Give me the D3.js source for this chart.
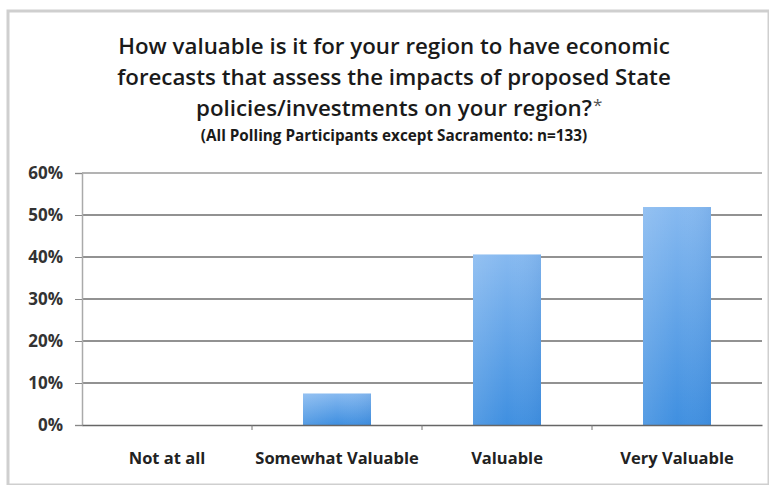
<!DOCTYPE html>
<html><head><meta charset="utf-8">
<script src="https://cdn.jsdelivr.net/npm/d3@7"></script>
<style>body{margin:0;background:#fff}svg{display:block}</style>
</head><body>
<svg id="c" width="769" height="485"></svg>
<script>
const categories = ["Not at all", "Somewhat Valuable", "Valuable", "Very Valuable"];
const values = [0, 7.5, 40.6, 51.9];
const yTicks = [0, 10, 20, 30, 40, 50, 60];
const titleLines = [
  "How valuable is it for your region to have economic",
  "forecasts that assess the impacts of proposed State",
  "policies/investments on your region?"
];
const subtitle = "(All Polling Participants except Sacramento: n=133)";

const svg = d3.select("#c");
const font = "'Open Sans', sans-serif";
const W = 769, H = 485;
const m = {left: 82, right: 7, top: 173, bottom: 60};

// frame
svg.append("rect").attr("x", 8).attr("y", 11).attr("width", W - 8).attr("height", H - 11)
  .attr("fill", "#fff").attr("stroke", "#cfcfcf").attr("stroke-width", 3);

const defs = svg.append("defs");
const g1 = defs.append("linearGradient").attr("id", "bg").attr("x1", 0).attr("x2", 0).attr("y1", 0).attr("y2", 1);
g1.append("stop").attr("offset", "0%").attr("stop-color", "#86b9f0");
g1.append("stop").attr("offset", "100%").attr("stop-color", "#3f8fe0");
const g2 = defs.append("linearGradient").attr("id", "bh").attr("x1", 0).attr("x2", 1).attr("y1", 0).attr("y2", 0);
g2.append("stop").attr("offset", "0%").attr("stop-color", "#ffffff").attr("stop-opacity", 0.12);
g2.append("stop").attr("offset", "50%").attr("stop-color", "#ffffff").attr("stop-opacity", 0);
g2.append("stop").attr("offset", "100%").attr("stop-color", "#1d5fb0").attr("stop-opacity", 0.1);

const x = d3.scaleBand().domain(categories).range([m.left, W - m.right]).paddingInner(0.6).paddingOuter(0.3);
const y = d3.scaleLinear().domain([0, 60]).range([H - m.bottom, m.top]);

// gridlines
svg.append("g").selectAll("line").data(yTicks.filter(d => d > 0)).join("line")
  .attr("x1", m.left).attr("x2", W - m.right)
  .attr("y1", d => y(d)).attr("y2", d => y(d))
  .attr("stroke", d => d === 60 ? "#9a9a9a" : "#6e6e6e").attr("stroke-width", 1.3);

// y axis
const ya = svg.append("g").attr("transform", `translate(${m.left},0)`)
  .call(d3.axisLeft(y).tickValues(yTicks).tickFormat(d => d + "%").tickSize(7).tickPadding(12));
ya.select(".domain").attr("stroke", "#aaa").attr("stroke-width", 1.5);
ya.selectAll(".tick line").attr("stroke", "#888");
ya.selectAll("text").attr("font-family", font).attr("font-weight", 700).attr("font-size", 17)
  .attr("fill", "#333").attr("dy", "0.35em").attr("x", -19);

// bars
const bars = svg.append("g").selectAll("g").data(categories.map((c, i) => ({c, v: values[i]}))).join("g");
bars.append("rect").attr("x", d => x(d.c)).attr("width", x.bandwidth())
  .attr("y", d => y(d.v)).attr("height", d => y(0) - y(d.v)).attr("fill", "url(#bg)");
bars.append("rect").attr("x", d => x(d.c)).attr("width", x.bandwidth())
  .attr("y", d => y(d.v)).attr("height", d => y(0) - y(d.v)).attr("fill", "url(#bh)");

// x axis
const xa = svg.append("g").attr("transform", `translate(0,${y(0)})`)
  .call(d3.axisBottom(x).tickSize(0).tickPadding(27));
xa.select(".domain").attr("stroke", "#666").attr("stroke-width", 1.5);
xa.selectAll("text").attr("font-family", font).attr("font-weight", 700).attr("font-size", 16.5).attr("fill", "#222");
xa.selectAll(".sep").data(categories.slice(1)).join("line").attr("class", "sep")
  .attr("x1", d => x(d) - x.step() * x.paddingInner() / 2).attr("x2", d => x(d) - x.step() * x.paddingInner() / 2)
  .attr("y1", 0).attr("y2", 5).attr("stroke", "#777");

// title
const tY = [48, 79, 110];
const cx = 394;
let fs = 22;
titleLines.forEach((t, i) => {
  const tx = svg.append("text").attr("x", cx).attr("y", tY[i]).attr("text-anchor", "middle")
    .attr("dominant-baseline", "middle").attr("font-family", font).attr("font-weight", 600)
    .attr("font-size", fs).attr("fill", "#1a1a1a").text(t);
  if (i === 0) {
    const w = tx.node().getComputedTextLength();
    fs = 22 * 552 / w;
    tx.attr("font-size", fs);
  }
  if (i === 2) {
    const w2 = tx.node().getComputedTextLength();
    svg.append("text").attr("x", cx + w2 / 2 + 1).attr("y", tY[i] - 4).attr("dominant-baseline", "middle")
      .attr("font-family", font).attr("font-size", 17).attr("fill", "#555").text("*");
  }
});
const st = svg.append("text").attr("x", cx).attr("y", 137).attr("text-anchor", "middle")
  .attr("dominant-baseline", "middle").attr("font-family", font).attr("font-weight", 700)
  .attr("font-size", 13).attr("fill", "#1a1a1a").text(subtitle);
const sw = st.node().getComputedTextLength();
st.attr("font-size", 13 * 387 / sw);
</script>
</body></html>
